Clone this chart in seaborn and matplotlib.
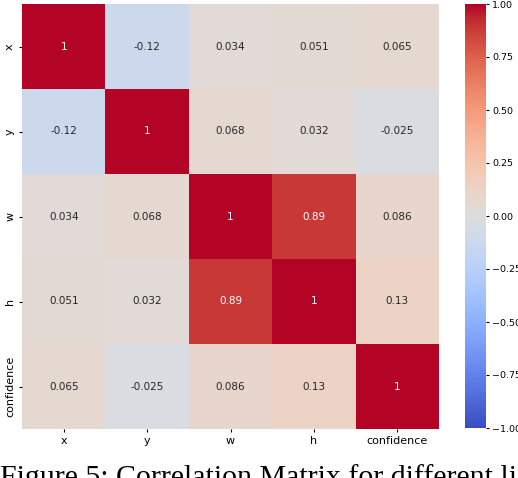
import numpy as np
import pandas as pd
import seaborn as sns
import matplotlib.pyplot as plt

# Correlation values
labels = ['x', 'y', 'w', 'h', 'confidence']
row_x = [1.0, -0.12, 0.034, 0.051, 0.065]
row_y = [-0.12, 1.0, 0.068, 0.032, -0.025]
row_w = [0.034, 0.068, 1.0, 0.89, 0.086]
row_h = [0.051, 0.032, 0.89, 1.0, 0.13]
row_conf = [0.065, -0.025, 0.086, 0.13, 1.0]

cbar_ticks = [-1, -0.75, -0.5, -0.25, 0, 0.25, 0.5, 0.75, 1]
caption = 'Figure 5: Correlation Matrix for different li'


def build_matrix():
    return pd.DataFrame([row_x, row_y, row_w, row_h, row_conf],
                        index=labels, columns=labels)


def plot_heatmap(corr):
    fig = plt.figure(figsize=(5.18, 4.78), dpi=100)
    W, H = 518, 478
    ax = fig.add_axes([22 / W, (H - 429) / H, 417 / W, 425 / H])
    cax = fig.add_axes([465 / W, (H - 428) / H, 21 / W, 424 / H])

    sns.heatmap(corr, annot=True, cmap='coolwarm', vmin=-1, vmax=1,
                ax=ax, cbar_ax=cax, annot_kws={'fontsize': 7.5})
    ax.tick_params(labelsize=8, length=2.5, pad=2.5)

    # colorbar ticks with two decimals, like the original
    cax.tick_params(labelsize=6.8, length=2.5, pad=2)
    cax.set_yticks(cbar_ticks)
    cax.set_yticklabels([f'{v:.2f}'.replace('-', '\u2212') for v in cbar_ticks])

    # caption is cropped at the bottom edge in the source image
    fig.text(0.0, -7 / H, caption, family='Liberation Serif',
             fontsize=21.5, va='baseline', ha='left')
    fig.savefig('out.png', dpi=100)


if __name__ == "__main__":
    corr = build_matrix()
    plot_heatmap(corr)
